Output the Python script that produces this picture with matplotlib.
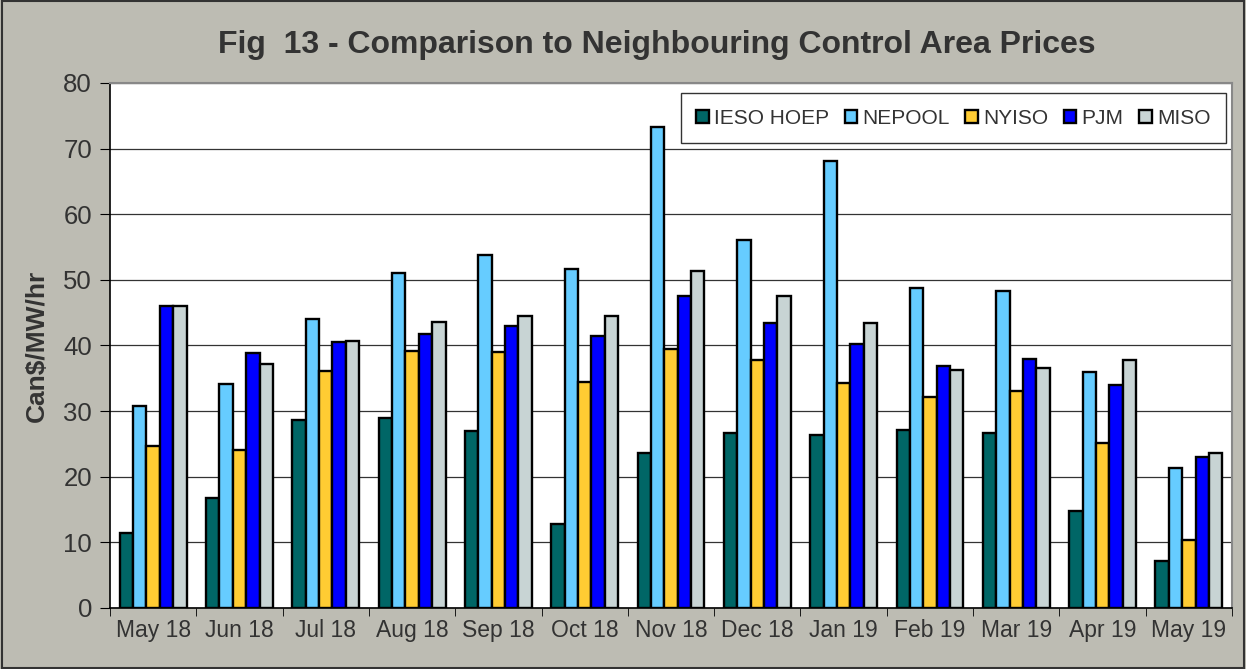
import matplotlib.pyplot as plt
import numpy as np

plt.rcParams['font.family'] = ['Liberation Sans', 'DejaVu Sans']

months = ['May 18', 'Jun 18', 'Jul 18', 'Aug 18', 'Sep 18', 'Oct 18', 'Nov 18',
          'Dec 18', 'Jan 19', 'Feb 19', 'Mar 19', 'Apr 19', 'May 19']
ieso = [11.5, 16.8, 28.6, 28.9, 27.0, 12.8, 23.6, 26.6, 26.4, 27.1, 26.7, 14.8, 7.1]
nepool = [30.8, 34.2, 44.1, 51.1, 53.8, 51.6, 73.3, 56.1, 68.1, 48.7, 48.3, 35.9, 21.4]
nyiso = [24.7, 24.1, 36.1, 39.1, 39.0, 34.5, 39.4, 37.8, 34.3, 32.1, 33.0, 25.2, 10.3]
pjm = [46.0, 38.9, 40.5, 41.8, 42.9, 41.4, 47.5, 43.5, 40.3, 36.8, 38.0, 34.0, 23.0]
miso = [46.0, 37.2, 40.7, 43.6, 44.5, 44.5, 51.3, 47.6, 43.4, 36.2, 36.5, 37.8, 23.6]

series = [('IESO HOEP', ieso, '#006666'),
          ('NEPOOL', nepool, '#66CCFF'),
          ('NYISO', nyiso, '#FFCC33'),
          ('PJM', pjm, '#0000FF'),
          ('MISO', miso, '#C8D4D4')]

bg = '#BDBCB3'
fig = plt.figure(figsize=(12.46, 6.69), dpi=100, facecolor=bg)
ax = fig.add_axes([0.0883, 0.0912, 0.9005, 0.7848])

x = np.arange(len(months))
w = 0.155
for i, (name, vals, col) in enumerate(series):
    ax.bar(x + (i - 2) * w, vals, w, color=col, edgecolor='black', linewidth=1.7,
           label=name, zorder=3)

ax.set_xlim(-0.5, len(months) - 0.5)
ax.set_ylim(0, 80)
ax.set_yticks(range(0, 81, 10))
ax.yaxis.grid(True, color='#333333', linewidth=0.9, zorder=0)
ax.set_xticks(x)
ax.set_xticklabels(months, fontsize=16.5, color='#333333')
ax.tick_params(axis='x', length=0, pad=8)
ax.set_xticks(np.arange(-0.5, len(months), 1), minor=True)
ax.tick_params(axis='x', which='minor', length=6, direction='out', color='black')
ax.tick_params(axis='y', labelsize=18.5, labelcolor='#333333', length=7, direction='out', pad=6)
ax.set_ylabel('Can$/MW/hr', fontsize=19, fontweight='bold', color='#333333', labelpad=10)

for s in ['top', 'right']:
    ax.spines[s].set_color('#888888')
    ax.spines[s].set_linewidth(1.5)
ax.spines['left'].set_linewidth(1.2)
ax.spines['bottom'].set_linewidth(1.2)

fig.text(0.527, 0.932, 'Fig  13 - Comparison to Neighbouring Control Area Prices',
         ha='center', va='center', fontsize=23, fontweight='bold', color='#333333')

leg = ax.legend(loc='upper right', ncol=5, fontsize=15, frameon=True, fancybox=False,
                edgecolor='black', handlelength=0.6, handleheight=0.6,
                handletextpad=0.25, columnspacing=0.75, borderpad=0.75,
                borderaxespad=0, bbox_to_anchor=(0.9947, 0.981))
leg.get_frame().set_linewidth(1.0)
for t in leg.get_texts():
    t.set_color('#333333')

fig.patches.append(plt.Rectangle((0.002, 0.002), 0.996, 0.996, transform=fig.transFigure,
                                 fill=False, edgecolor='#333333', linewidth=1.5))

plt.savefig('out.png', dpi=100, facecolor=bg)
